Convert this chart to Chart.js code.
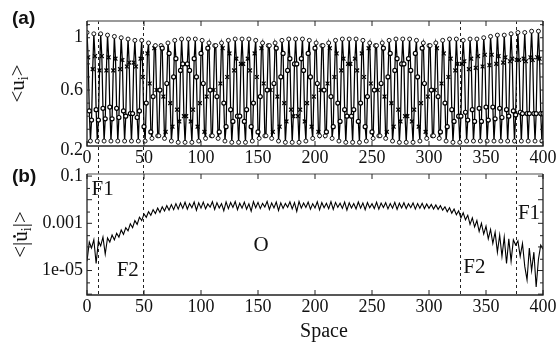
<!DOCTYPE html>
<html>
<head>
<meta charset="utf-8">
<script src="https://cdn.jsdelivr.net/npm/chart.js@4.4.1/dist/chart.umd.min.js"></script>
<style>
  html, body { margin:0; padding:0; background:#fff; }
  #wrap { position:relative; width:559px; height:345px; overflow:hidden; }
  #wrap canvas { position:absolute; left:0; top:0; }
</style>
</head>
<body>
<div id="wrap">
  <canvas id="ca" width="559" height="345"></canvas>
  <canvas id="cb" width="559" height="345"></canvas>
</div>
<script>
// ── data ──
const SPACE_MAX = 400;
const xTicks = [0, 50, 100, 150, 200, 250, 300, 350, 400];
const frontLines = [10, 49, 327, 376];          // dashed front positions

// (a) time-averaged u_i, one value per site 0..400
const uMean = [
  1.04,.85,.44,.21,.37,.76, 1.03,.86,.45,.21,.37,.75, 1.03,.86,.46,.21,.38,.75,
  1.02,.85,.47,.21,.38,.75, 1.01,.84,.46,.21,.39,.76, 1.00,.83,.44,.21,.40,.78,
  .99,.81,.42,.21,.42,.81,  .98,.78,.39,.21,.44,.84,
  .98,.70,.32,.21,.50,.88,  .96,.65,.28,.23,.55,.92,  .94,.60,.25,.25,.60,.94,
  .92,.55,.23,.28,.65,.96,  .88,.50,.21,.32,.70,.98,  .84,.45,.20,.36,.75,.99,
  .80,.40,.20,.40,.80,.99,  .75,.36,.20,.45,.84,.99,  .70,.32,.21,.50,.88,.98,
  .65,.28,.23,.55,.92,.96,  .60,.25,.25,.60,.94,.94,  .55,.23,.28,.65,.96,.92,
  .50,.21,.32,.70,.98,.88,  .45,.20,.36,.75,.99,.84,  .40,.20,.40,.80,.99,.80,
  .36,.20,.45,.84,.99,.75,  .32,.21,.50,.88,.98,.70,  .28,.23,.55,.92,.96,.65,
  .25,.25,.60,.94,.94,.60,  .23,.28,.65,.96,.92,.55,  .21,.32,.70,.98,.88,.50,
  .20,.36,.75,.99,.84,.45,  .20,.40,.80,.99,.80,.40,  .20,.45,.84,.99,.75,.36,
  .21,.50,.88,.98,.70,.32,  .23,.55,.92,.96,.65,.28,  .25,.60,.94,.94,.60,.25,
  .28,.65,.96,.92,.55,.23,  .32,.70,.98,.88,.50,.21,  .36,.75,.99,.84,.45,.20,
  .40,.80,.99,.80,.40,.20,  .45,.84,.99,.75,.36,.20,  .50,.88,.98,.70,.32,.21,
  .55,.92,.96,.65,.28,.23,  .60,.94,.94,.60,.25,.25,  .65,.96,.92,.55,.23,.28,
  .70,.98,.88,.50,.21,.32,  .75,.99,.84,.45,.20,.36,  .80,.99,.80,.40,.20,.40,
  .84,.99,.75,.36,.20,.45,  .88,.98,.70,.32,.21,.50,  .92,.96,.65,.28,.23,.55,
  .94,.94,.60,.25,.25,.60,  .96,.92,.55,.23,.28,.65,  .98,.88,.50,.21,.32,.70,
  .99,.84,.45,.20,.36,.75,  .99,.80,.40,.20,.40,.80,
  .98,.82,.43,.21,.37,.76,  .99,.84,.45,.21,.36,.77,  .99,.86,.46,.21,.36,.78,
  1.00,.87,.47,.21,.37,.79, 1.01,.87,.47,.21,.38,.80, 1.02,.86,.46,.21,.39,.81,
  1.02,.85,.45,.21,.40,.82, 1.03,.84,.44,.21,.41,.83, 1.04,.83,.43,.21,.42,.84,
  1.04,.82,.42,.21,.42,.85, 1.05,.83,.42,.21,.42,.85, 1.05,.84,.42,.21,.42
];

// (b) time-averaged |du_i/dt|, sampled every 2 sites 0..400
const uDotStep = 2;
const uDotAbs = [
  2.5e-5,1.6e-4,9e-5,2.0e-4,2e-5,1.8e-4,1.1e-4,2.6e-4,5e-5,2.4e-4,
  1.6e-4,3.2e-4,2.0e-4,3.8e-4,2.6e-4,5.2e-4,3.4e-4,6.5e-4,4.8e-4,9.5e-4,
  6.5e-4,1.3e-3,9e-4,1.8e-3,1.3e-3,2.5e-3,1.8e-3,3.1e-3,2.2e-3,3.8e-3,
  2.6e-3,4.4e-3,2.9e-3,5.0e-3,3.3e-3,5.6e-3,3.6e-3,6.2e-3,3.8e-3,6.8e-3,
  4.0e-3,
  7.2e-3,4.3e-3,7.8e-3,4.0e-3,6.9e-3,4.6e-3,8.0e-3,3.6e-3,7.4e-3,4.4e-3,
  7.9e-3,4.1e-3,6.6e-3,4.8e-3,8.2e-3,3.9e-3,7.5e-3,4.5e-3,6.8e-3,3.4e-3,
  8.1e-3,4.2e-3,7.6e-3,4.7e-3,8.4e-3,3.8e-3,7.1e-3,4.4e-3,7.9e-3,4.0e-3,
  6.7e-3,3.3e-3,8.3e-3,4.6e-3,7.7e-3,4.2e-3,7.0e-3,4.9e-3,8.5e-3,3.9e-3,
  7.3e-3,4.5e-3,8.0e-3,3.5e-3,7.4e-3,4.3e-3,6.9e-3,4.8e-3,8.2e-3,4.1e-3,
  7.6e-3,3.2e-3,8.4e-3,4.4e-3,7.2e-3,4.7e-3,7.9e-3,4.0e-3,6.8e-3,4.5e-3,
  8.1e-3,3.7e-3,7.5e-3,4.6e-3,7.0e-3,4.2e-3,8.3e-3,3.9e-3,7.7e-3,4.8e-3,
  7.1e-3,4.3e-3,7.9e-3,3.6e-3,7.4e-3,4.5e-3,6.9e-3,4.1e-3,8.0e-3,4.4e-3,
  7.3e-3,3.8e-3,7.6e-3,4.6e-3,6.8e-3,4.2e-3,7.8e-3,4.0e-3,7.2e-3,4.7e-3,
  7.5e-3,4.1e-3,6.9e-3,4.4e-3,7.7e-3,3.9e-3,7.1e-3,4.5e-3,7.4e-3,4.2e-3,
  6.8e-3,4.6e-3,7.3e-3,4.0e-3,6.9e-3,4.4e-3,7.0e-3,4.2e-3,6.6e-3,4.3e-3,
  6.3e-3,4.0e-3,6.0e-3,3.9e-3,5.6e-3,
  3.6e-3,5.0e-3,3.1e-3,4.6e-3,2.7e-3,4.0e-3,2.3e-3,3.4e-3,1.7e-3,2.8e-3,
  1.4e-3,2.2e-3,9e-4,1.7e-3,7e-4,1.3e-3,4.5e-4,1.0e-3,3.5e-4,7.5e-4,
  2.2e-4,5.5e-4,1.4e-4,4.2e-4,6e-5,3.2e-4,4e-5,2.6e-4,2e-5,2.2e-4,
  2.5e-5,2.0e-4,1.2e-4,1.8e-4,4e-5,1.4e-4,1.5e-5,4e-6,9e-5,1e-5,
  6e-5,2e-6,3e-5,1.2e-4,8e-5
];

const yTicksA = [0.2, 0.6, 1];
const yTicksB = [1e-5, 1e-3, 0.1];
const yTickTextB = ['1e-05', '0.001', '0.1'];
const regionLabels = [
  { text:'F1', x:4,   y:0.026 },
  { text:'F2', x:26,  y:1.05e-5 },
  { text:'O',  x:146, y:1.2e-4 },
  { text:'F2', x:330, y:1.4e-5 },
  { text:'F1', x:378, y:2.5e-3 }
];

const SERIF = '"Liberation Serif", "Times New Roman", serif';
const INK = '#111';

function drawBox(ch, topCol) {
  const c = ch.ctx, a = ch.chartArea;
  c.save();
  c.lineWidth = 1.3;
  c.strokeStyle = topCol;
  c.beginPath(); c.moveTo(a.left, a.top); c.lineTo(a.right, a.top); c.stroke();
  c.strokeStyle = '#222';
  c.beginPath();
  c.moveTo(a.right, a.top); c.lineTo(a.right, a.bottom); c.lineTo(a.left, a.bottom); c.lineTo(a.left, a.top);
  c.stroke();
  // inward x ticks, top and bottom
  const xs = ch.scales.x;
  c.lineWidth = 1;
  xTicks.forEach(v => {
    const px = xs.getPixelForValue(v);
    c.beginPath();
    c.moveTo(px, a.bottom); c.lineTo(px, a.bottom - 5);
    c.moveTo(px, a.top); c.lineTo(px, a.top + 5);
    c.stroke();
  });
  c.restore();
}

function yTicksInward(ch, vals, len) {
  const c = ch.ctx, a = ch.chartArea, ys = ch.scales.y;
  c.save();
  c.strokeStyle = '#222'; c.lineWidth = 1;
  vals.forEach(v => {
    const py = ys.getPixelForValue(v);
    if (py < a.top - 0.5 || py > a.bottom + 0.5) return;
    c.beginPath();
    c.moveTo(a.left, py); c.lineTo(a.left + len, py);
    c.moveTo(a.right, py); c.lineTo(a.right - len, py);
    c.stroke();
  });
  c.restore();
}

function xLabels(ch) {
  const c = ch.ctx, a = ch.chartArea, xs = ch.scales.x;
  c.save();
  c.fillStyle = INK; c.font = '18px ' + SERIF;
  c.textAlign = 'center'; c.textBaseline = 'middle';
  xTicks.forEach(v => c.fillText(String(v), xs.getPixelForValue(v), a.bottom + 12));
  c.restore();
}

// rotated y-axis title built from pieces: [text, isSub, hasDot]
function yTitle(c, bx, cy, parts) {
  c.save();
  c.fillStyle = INK;
  const big = '21px ' + SERIF, small = '14px ' + SERIF;
  let w = 0;
  parts.forEach(p => { c.font = p[1] ? small : big; w += c.measureText(p[0]).width; });
  c.translate(bx, cy);
  c.rotate(-Math.PI / 2);
  c.textBaseline = 'alphabetic'; c.textAlign = 'left';
  let x = -w / 2;
  parts.forEach(p => {
    c.font = p[1] ? small : big;
    const pw = c.measureText(p[0]).width;
    c.fillText(p[0], x, p[1] ? 4 : 0);
    if (p[2]) { c.beginPath(); c.arc(x + pw / 2, -12.5, 1.4, 0, Math.PI * 2); c.fill(); }
    x += pw;
  });
  c.restore();
}

function dashed(ch, y0, y1) {
  const c = ch.ctx, xs = ch.scales.x;
  c.save();
  c.strokeStyle = '#222'; c.lineWidth = 1; c.setLineDash([3, 3]);
  frontLines.forEach(v => {
    const px = Math.round(xs.getPixelForValue(v)) + 0.5;
    c.beginPath(); c.moveTo(px, y0); c.lineTo(px, y1); c.stroke();
  });
  c.restore();
}

const isExtreme = v => v > 0.92 || v < 0.27;

// ── panel (a) ──
const panelA = {
  id: 'panelA',
  beforeDatasetsDraw(ch) { dashed(ch, ch.chartArea.top, 296); },
  afterDraw(ch) {
    const c = ch.ctx, a = ch.chartArea, ys = ch.scales.y;
    drawBox(ch, '#777');
    yTicksInward(ch, [0.2, 0.3, 0.4, 0.5, 0.6, 0.7, 0.8, 0.9, 1.0, 1.1], 3);
    xLabels(ch);
    c.save();
    c.fillStyle = INK; c.font = '18px ' + SERIF;
    c.textAlign = 'right'; c.textBaseline = 'middle';
    yTicksA.forEach((v, i) => {
      let py = ys.getPixelForValue(v);
      if (i === 0) py += 8;               // bottom label sits on the axis corner
      c.fillText(String(v), a.left - 4, py);
    });
    c.font = 'bold 19px "Liberation Sans", Arial, sans-serif';
    c.textAlign = 'left';
    c.fillText('(a)', 12, 19);
    c.restore();
    yTitle(c, 24, (a.top + a.bottom) / 2, [['<', 0], ['u', 0], ['i', 1], ['>', 0]]);
  }
};

new Chart(document.getElementById('ca'), {
  type: 'line',
  data: {
    datasets: [{
      data: uMean.map((v, i) => ({ x: i, y: v })),
      borderColor: '#000',
      borderWidth: 1.25,
      tension: 0,
      pointStyle: ctx => isExtreme(ctx.parsed.y) ? 'circle' : (ctx.dataIndex % 2 ? 'crossRot' : 'circle'),
      pointRadius: ctx => isExtreme(ctx.parsed.y) ? 2 : (ctx.dataIndex % 2 ? 2.7 : 2),
      pointBackgroundColor: '#fff',
      pointBorderColor: '#000',
      pointBorderWidth: ctx => isExtreme(ctx.parsed.y) ? 0.9 : 1.2
    }]
  },
  options: {
    responsive: false, animation: false, events: [],
    layout: { padding: { top: 21, right: 16, left: 0, bottom: 0 } },
    plugins: { legend: { display: false }, tooltip: { enabled: false } },
    scales: {
      x: { type: 'linear', min: 0, max: SPACE_MAX, grid: { display: false }, border: { display: false },
           ticks: { display: false }, afterFit: s => { s.height = 199; } },
      y: { min: 0.172, max: 1.128, grid: { display: false }, border: { display: false },
           ticks: { display: false }, afterFit: s => { s.width = 87; } }
    }
  },
  plugins: [panelA]
});

// ── panel (b) ──
const panelB = {
  id: 'panelB',
  afterDraw(ch) {
    const c = ch.ctx, a = ch.chartArea, ys = ch.scales.y;
    drawBox(ch, '#888');
    const dec = [], minor = [];
    for (let e = -6; e <= -1; e++) { dec.push(Math.pow(10, e)); minor.push(3 * Math.pow(10, e)); }
    yTicksInward(ch, dec, 5);
    yTicksInward(ch, minor, 3);
    xLabels(ch);
    c.save();
    c.fillStyle = INK; c.font = '18px ' + SERIF;
    c.textAlign = 'right'; c.textBaseline = 'middle';
    yTicksB.forEach((v, i) => c.fillText(yTickTextB[i], a.left - 4, ys.getPixelForValue(v)));
    c.textAlign = 'center';
    c.font = '20px ' + SERIF;
    c.fillText('Space', 324, 332);
    c.font = '21px ' + SERIF;
    regionLabels.forEach(l => {
      c.textAlign = 'left';
      c.fillText(l.text, ch.scales.x.getPixelForValue(l.x), ys.getPixelForValue(l.y));
    });
    c.font = 'bold 19px "Liberation Sans", Arial, sans-serif';
    c.textAlign = 'left';
    c.fillText('(b)', 12, 177);
    c.restore();
    yTitle(c, 27, (a.top + a.bottom) / 2, [['<|', 0], ['u', 0, 1], ['i', 1], ['|>', 0]]);
  }
};

new Chart(document.getElementById('cb'), {
  type: 'line',
  data: {
    datasets: [{
      data: uDotAbs.map((v, i) => ({ x: i * uDotStep, y: v })),
      borderColor: '#000',
      borderWidth: 1.1,
      pointRadius: 0,
      tension: 0
    }]
  },
  options: {
    responsive: false, animation: false, events: [],
    layout: { padding: { top: 174, right: 16, left: 0, bottom: 0 } },
    plugins: { legend: { display: false }, tooltip: { enabled: false } },
    scales: {
      x: { type: 'linear', min: 0, max: SPACE_MAX, grid: { display: false }, border: { display: false },
           ticks: { display: false }, afterFit: s => { s.height = 50; } },
      y: { type: 'logarithmic', min: 9.2e-7, max: 0.1227, grid: { display: false }, border: { display: false },
           ticks: { display: false }, afterFit: s => { s.width = 87; } }
    }
  },
  plugins: [panelB]
});
</script>
</body>
</html>
